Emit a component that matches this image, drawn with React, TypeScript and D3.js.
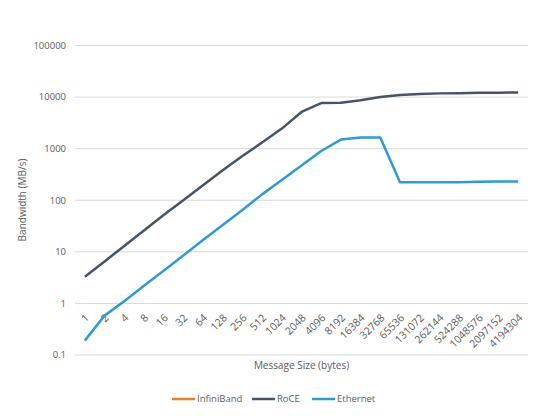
import React, { useRef, useEffect } from 'react';
import * as d3 from 'd3';

const sizes = [
    '1', '2', '4', '8', '16', '32', '64', '128', '256', '512', '1024', '2048',
    '4096', '8192', '16384', '32768', '65536', '131072', '262144', '524288',
    '1048576', '2097152', '4194304',
];
const infiniband: number[] = [];
const roce = [
    3.3, 6.5, 13, 26, 52, 100, 195, 380, 720, 1320, 2450, 5150, 7650, 7800,
    8700, 10000, 11000, 11500, 11800, 11900, 12100, 12200, 12300,
];
const ethernet = [
    0.19, 0.58, 1.1, 2.2, 4.3, 8.5, 17, 33, 65, 130, 248, 470, 900, 1500, 1640,
    1650, 224, 224, 224, 224, 228, 230, 230,
];
const yTicks = [0.1, 1, 10, 100, 1000, 10000, 100000];
const seriesNames = ['InfiniBand', 'RoCE', 'Ethernet'];
const seriesColors = ['#ed7d31', '#44546a', '#2e9bd1'];

const W = 540;
const H = 416;
const FONT = '"Open Sans", sans-serif';
const TEXT = '#595959';

const App: React.FC = () => {
    const svgRef = useRef<SVGSVGElement | null>(null);

    useEffect(() => {
        if (!svgRef.current) return;
        const svg = d3.select(svgRef.current);
        svg.selectAll('*').remove();

        const x = d3.scaleBand<string>().domain(sizes).range([75, 528]);
        const y = d3.scaleLog().domain([0.1, 100000]).range([355, 45.5]);
        const cx = (s: string) => (x(s) ?? 0) + x.bandwidth() / 2;

        // gridlines
        svg.append('g')
            .selectAll('line')
            .data(yTicks)
            .enter()
            .append('line')
            .attr('x1', 75)
            .attr('x2', 528)
            .attr('y1', (d) => y(d))
            .attr('y2', (d) => y(d))
            .attr('stroke', '#d9d9d9')
            .attr('stroke-width', 1);

        // y tick labels
        svg.append('g')
            .selectAll('text')
            .data(yTicks)
            .enter()
            .append('text')
            .attr('x', 66)
            .attr('y', (d) => y(d))
            .attr('dy', '0.35em')
            .attr('text-anchor', 'end')
            .attr('font-family', FONT)
            .attr('font-size', 9.5)
            .attr('fill', TEXT)
            .text((d) => String(d));

        // x tick labels, axis crosses at 1
        const axisY = y(1);
        svg.append('g')
            .selectAll('text')
            .data(sizes)
            .enter()
            .append('text')
            .attr('transform', (d) => `translate(${cx(d) + 5},${axisY + 15}) rotate(-45)`)
            .attr('text-anchor', 'end')
            .attr('font-family', FONT)
            .attr('font-size', 10.5)
            .attr('fill', TEXT)
            .text((d) => d);

        // lines
        const line = d3
            .line<number>()
            .x((_, i) => cx(sizes[i]))
            .y((d) => y(d));
        [infiniband, roce, ethernet].forEach((vals, k) => {
            if (!vals.length) return;
            svg.append('path')
                .datum(vals)
                .attr('d', line)
                .attr('fill', 'none')
                .attr('stroke', seriesColors[k])
                .attr('stroke-width', 2.5)
                .attr('stroke-linejoin', 'round');
        });

        // axis titles
        svg.append('text')
            .attr('x', 301.5)
            .attr('y', 369)
            .attr('text-anchor', 'middle')
            .attr('font-family', FONT)
            .attr('font-size', 10)
            .attr('fill', TEXT)
            .text('Message Size (bytes)');
        svg.append('text')
            .attr('transform', `translate(26,200) rotate(-90)`)
            .attr('text-anchor', 'middle')
            .attr('font-family', FONT)
            .attr('font-size', 10)
            .attr('fill', TEXT)
            .text('Bandwidth (MB/s)');

        // legend
        const legendX = [172, 252, 312];
        const lg = svg
            .append('g')
            .selectAll('g')
            .data(seriesNames)
            .enter()
            .append('g')
            .attr('transform', (_, i) => `translate(${legendX[i]},399)`);
        lg.append('line')
            .attr('x1', 0)
            .attr('x2', 23)
            .attr('stroke', (_, i) => seriesColors[i])
            .attr('stroke-width', 2.5);
        lg.append('text')
            .attr('x', 25)
            .attr('dy', '0.35em')
            .attr('font-family', FONT)
            .attr('font-size', 9.5)
            .attr('fill', TEXT)
            .text((d) => d);
    }, []);

    return (
        <svg
            ref={svgRef}
            width={W}
            height={H}
            style={{ position: 'absolute', left: 0, top: 0, background: '#fff' }}
        ></svg>
    );
};

export default App;
